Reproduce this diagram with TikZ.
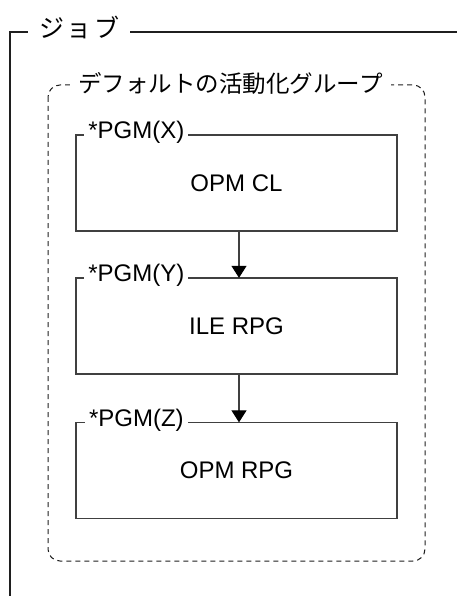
\documentclass[tikz,border=0pt]{standalone}
\usepackage{fontspec}
\setmainfont{Liberation Sans}
\newfontfamily\jpfont{Noto Sans CJK JP}
\newfontfamily\jpwide[LetterSpace=10]{Noto Sans CJK JP}
\usetikzlibrary{arrows.meta}
\tikzset{
  frame/.style={draw=black!88, line width=2pt},
  grp/.style={draw=black!88, line width=1pt, dash pattern=on 5pt off 4pt, rounded corners=12pt},
  pgmbox/.style={draw=black!75, line width=1.3pt, minimum width=321pt, minimum height=96pt,
    inner sep=0pt, font=\fontsize{24}{28}\selectfont},
  pgmlabel/.style={fill=white, inner xsep=4pt, inner ysep=1pt, font=\fontsize{24}{28}\selectfont, anchor=center},
  jtitle/.style={fill=white, inner ysep=2pt, font=\jpfont\fontsize{23.5}{28}\selectfont},
  arr/.style={draw=black!75, line width=1.1pt, -{Triangle[width=15pt,length=12pt,color=black]}, shorten >=-0.5pt}
}
\begin{document}
\begin{tikzpicture}[x=1pt,y=-1pt]
\useasboundingbox (0,0) rectangle (457,596);
% outer job frame
\draw[frame] (457,32) -- (9.5,32) -- (9.5,596);
\node[jtitle, inner xsep=11pt, font=\jpwide\fontsize{25}{28}\selectfont] (job) at (79,27) {ジョブ};
% activation group
\draw[grp] (48,85) rectangle (425,561);
\node[jtitle, inner xsep=8pt] (grp) at (230.5,83) {デフォルトの活動化グループ};
% program boxes
\node[pgmbox] (bx) at (236.5,183) {OPM CL};
\node[pgmbox] (by) at (236.5,326) {ILE RPG};
\node[pgmbox] (bz) at (236.5,470.5) {OPM RPG};
\node[pgmlabel] (lx) at ([xshift=61pt,yshift=2pt]bx.north west) {*PGM(X)};
\node[pgmlabel] (ly) at ([xshift=61pt,yshift=2pt]by.north west) {*PGM(Y)};
\node[pgmlabel] (lz) at ([xshift=61pt,yshift=2pt]bz.north west) {*PGM(Z)};
% arrows
\draw[arr] ([xshift=2.5pt]bx.south) -- ([xshift=2.5pt]by.north);
\draw[arr] ([xshift=2.5pt]by.south) -- ([xshift=2.5pt]bz.north);
\end{tikzpicture}
\end{document}
